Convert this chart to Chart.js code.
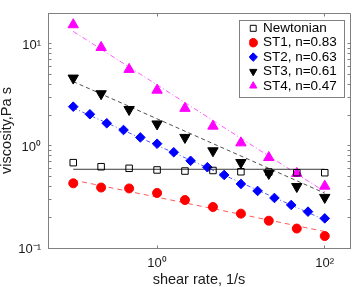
<!DOCTYPE html>
<html><head><meta charset="utf-8">
<script src="https://cdn.jsdelivr.net/npm/chart.js@4.4.1/dist/chart.umd.min.js"></script>
<style>html,body{margin:0;padding:0;background:#fff;}#wrap{width:357px;height:287px;position:relative;}</style>
</head><body><div id="wrap"><canvas id="c"></canvas></div>
<script>
// ---- data ----
const shearRate = [0.1, 0.215, 0.464, 1, 2.15, 4.64, 10, 21.5, 46.4, 100];
const shearRateST2 = [0.1, 0.158, 0.251, 0.398, 0.631, 1, 1.58, 2.51, 3.98, 6.31, 10, 15.8, 25.1, 39.8, 63.1, 100];
const newtonian = [0.685, 0.625, 0.603, 0.581, 0.567, 0.574, 0.558, 0.555, 0.546, 0.546];
const st1 = [0.430, 0.391, 0.383, 0.346, 0.295, 0.252, 0.217, 0.185, 0.155, 0.131];
const st2 = [2.42, 2.04, 1.665, 1.43, 1.21, 1.05, 0.866, 0.714, 0.618, 0.519, 0.424, 0.362, 0.309, 0.264, 0.227, 0.195];
const st3 = [4.61, 3.24, 2.27, 1.64, 1.21, 0.895, 0.687, 0.537, 0.400, 0.313];
const st4 = [15.35, 9.20, 5.61, 3.51, 2.33, 1.56, 1.07, 0.769, 0.537, 0.403];
const fitRange = [0.1, 100];
const newtonianFit = [0.590, 0.590];
const st1Fit = [0.463, 0.145];
const st2Fit = [2.35, 0.188];
const st3Fit = [4.26, 0.344];
const st4Fit = [13.2, 0.356];
const seriesNames = ['Newtonian', 'ST1, n=0.83', 'ST2, n=0.63', 'ST3, n=0.61', 'ST4, n=0.47'];
const xTickValues = [1, 100];
const xTickLabels = ['10\u2070', '10\u00B2'];
const yTickValues = [0.1, 1, 10];
const yTickLabels = ['10\u207B\u00B9', '10\u2070', '10\u00B9'];
const yMinorTicks = [0.2, 0.3, 0.4, 0.5, 0.6, 0.7, 0.8, 0.9, 2, 3, 4, 5, 6, 7, 8, 9];
const xLimits = [0.05, 200];
const yLimits = [0.1, 20];

const pts = (xs, ys) => xs.map((x, i) => ({x: x, y: ys[i]}));
const FONT = "'Liberation Sans', Arial, Helvetica, sans-serif";
Chart.defaults.font.family = FONT;
const AXIS = '#808080';
const TXT = '#1a1a1a';

function markerSet(label, data, style, color, fill, radius, rot) {
  return {label, data, showLine: false, pointStyle: style, pointRadius: radius, pointHoverRadius: radius,
    pointRotation: rot || 0, pointBackgroundColor: fill, pointBorderColor: color, pointBorderWidth: 1,
    backgroundColor: fill, borderColor: color, borderWidth: 1};
}
function fitSet(data, color, dash, width) {
  return {label: 'fit', data, showLine: true, pointRadius: 0, pointHoverRadius: 0, borderColor: color,
    backgroundColor: color, borderWidth: width, borderDash: dash, fill: false, tension: 0};
}

const framePlugin = {
  id: 'frame',
  afterLayout(chart) {
    const a = chart.chartArea, lg = chart.legend;
    const bx = a.right - 111.3, by = a.top + 6.5;
    chart.$legendBox = {x: bx, y: by, w: 105, h: 77};
    lg.left = bx + 10.6; lg.top = by + 1.15;
    lg.right = bx + 105; lg.bottom = by + 77;
    lg.width = lg.right - lg.left; lg.height = lg.bottom - lg.top;
  },
  beforeDraw(chart) {
    const b = chart.$legendBox, ctx = chart.ctx;
    if (!b) return;
    ctx.save();
    ctx.fillStyle = '#fff';
    ctx.strokeStyle = AXIS;
    ctx.lineWidth = 1;
    const x = Math.round(b.x) + 0.5, y = Math.round(b.y) + 0.5;
    ctx.fillRect(x, y, Math.round(b.w), Math.round(b.h));
    ctx.strokeRect(x, y, Math.round(b.w), Math.round(b.h));
    ctx.restore();
  },
  beforeDatasetsDraw(chart) {
    const {ctx, chartArea: a} = chart;
    const xs = chart.scales.x, ys = chart.scales.y;
    const L = 3;
    const al = v => Math.round(v - 0.5) + 0.5;
    ctx.save();
    ctx.strokeStyle = AXIS;
    ctx.lineWidth = 1;
    ctx.beginPath();
    const top = al(a.top), right = al(a.right), left = al(a.left), bottom = al(a.bottom);
    ctx.moveTo(left, top); ctx.lineTo(right, top); ctx.lineTo(right, bottom);
    yTickValues.concat(yMinorTicks).forEach(v => {
      const p = al(ys.getPixelForValue(v));
      if (p < a.top || p > a.bottom) return;
      ctx.moveTo(left, p); ctx.lineTo(left + L, p);
      ctx.moveTo(right, p); ctx.lineTo(right - L, p);
    });
    xTickValues.forEach(v => {
      const p = al(xs.getPixelForValue(v));
      ctx.moveTo(p, bottom); ctx.lineTo(p, bottom - L);
      ctx.moveTo(p, top); ctx.lineTo(p, top + L);
    });
    ctx.stroke();
    ctx.restore();
  }
};

new Chart(document.getElementById('c'), {
  type: 'scatter',
  data: {
    datasets: [
      markerSet(seriesNames[0], pts(shearRate, newtonian), 'rect', '#000', 'rgba(0,0,0,0)', 4.6),
      markerSet(seriesNames[1], pts(shearRate, st1), 'circle', '#ff0000', '#ff0000', 4.5),
      markerSet(seriesNames[2], pts(shearRateST2, st2), 'rectRot', '#0000ff', '#0000ff', 4.8),
      markerSet(seriesNames[3], pts(shearRate, st3), 'triangle', '#000', '#000', 6, 180),
      markerSet(seriesNames[4], pts(shearRate, st4), 'triangle', '#ff00ff', '#ff00ff', 6),
      fitSet(pts(fitRange, newtonianFit), '#3a3a3a', [], 1),
      fitSet(pts(fitRange, st1Fit), '#ff3030', [5, 4], 0.8),
      fitSet(pts(fitRange, st2Fit), '#2030ff', [4, 2.5, 1, 2.5], 0.8),
      fitSet(pts(fitRange, st3Fit), '#222', [4, 3], 0.8),
      fitSet(pts(fitRange, st4Fit), '#ff30ff', [5, 2.5, 1, 2.5], 0.8)
    ]
  },
  options: {
    responsive: true, maintainAspectRatio: false, animation: false, devicePixelRatio: 1,
    layout: {padding: {top: 13, right: 3, left: 0, bottom: 0}},
    plugins: {
      tooltip: {enabled: false},
      legend: {
        position: 'chartArea', align: 'start',
        labels: {
          usePointStyle: true, boxWidth: 6, boxHeight: 6, padding: 0.9, color: '#000',
          font: {size: 13.5, family: FONT},
          filter: item => item.datasetIndex < 5
        }
      }
    },
    scales: {
      x: {
        type: 'logarithmic', position: 'bottom', min: xLimits[0], max: xLimits[1],
        grid: {display: false, drawTicks: false},
        border: {display: true, color: AXIS, width: 1},
        afterBuildTicks: s => { s.ticks = xTickValues.map(v => ({value: v})); },
        afterFit: s => { s.height = 39; s.paddingLeft = 0; s.paddingRight = 0; },
        ticks: {
          autoSkip: false, maxRotation: 0, padding: 7.2, color: TXT, font: {size: 13},
          callback: v => { const i = xTickValues.indexOf(v); return i >= 0 ? xTickLabels[i] : ''; }
        },
        title: {display: true, text: 'shear rate, 1/s', color: TXT, font: {size: 14.5, lineHeight: 1}, padding: {top: -1.75, bottom: 0}}
      },
      y: {
        type: 'logarithmic', position: 'left', min: yLimits[0], max: yLimits[1],
        grid: {display: false, drawTicks: false},
        border: {display: true, color: AXIS, width: 1},
        afterBuildTicks: s => { s.ticks = yTickValues.map(v => ({value: v})); },
        afterFit: s => { s.width = 48; s.paddingTop = 0; s.paddingBottom = 0; },
        ticks: {
          autoSkip: false, padding: 7, labelOffset: 1.5, color: TXT, font: {size: 13},
          callback: v => { const i = yTickValues.indexOf(v); return i >= 0 ? yTickLabels[i] : ''; }
        },
        title: {display: true, text: 'viscosity,Pa s', color: TXT, font: {size: 14.5, lineHeight: 1}, padding: {top: 0, bottom: 0}}
      }
    }
  },
  plugins: [framePlugin]
});
</script>
</body></html>
